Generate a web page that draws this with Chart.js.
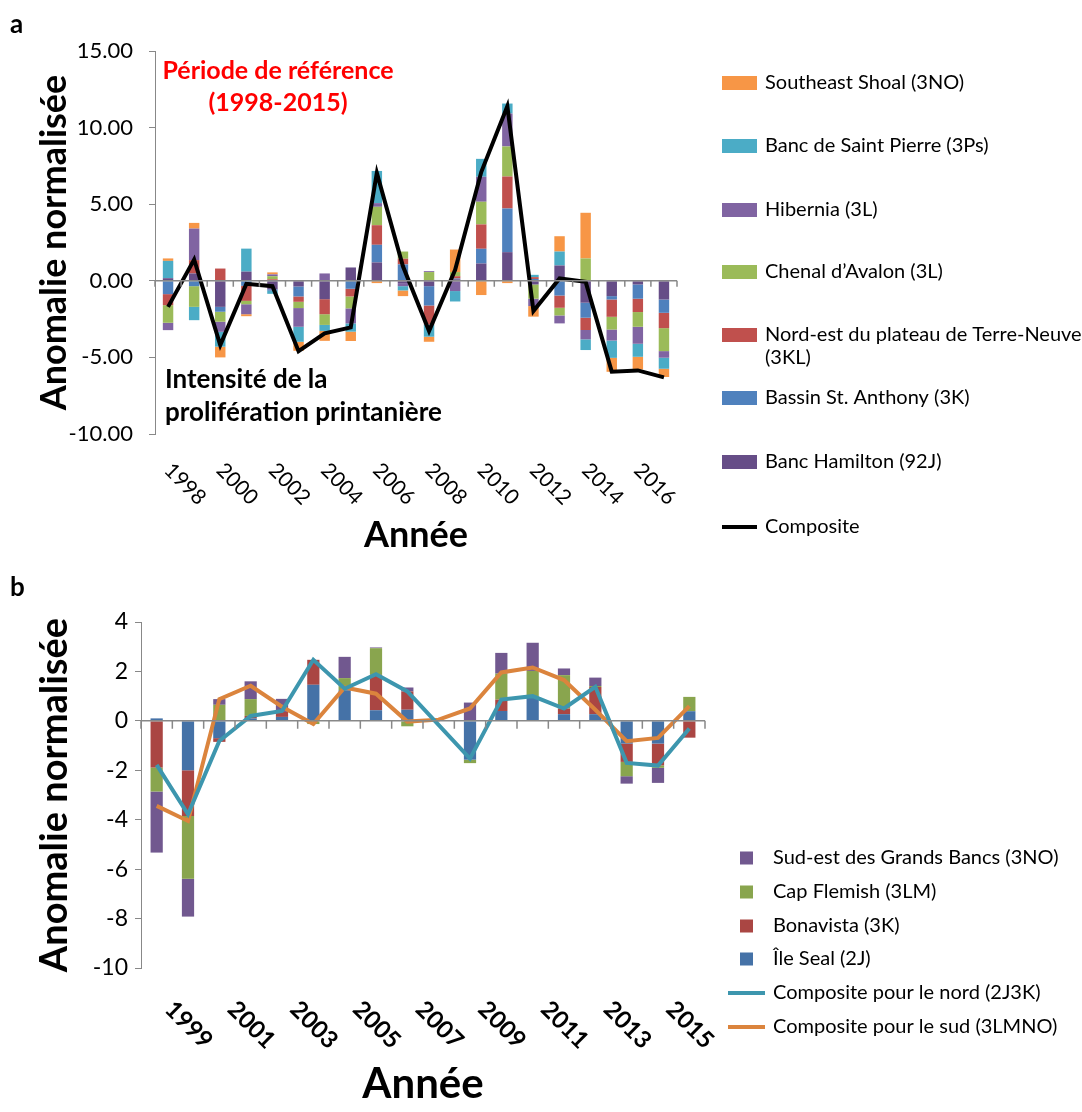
<!DOCTYPE html>
<html>
<head>
<meta charset="utf-8">
<title>Anomalie normalisée</title>
<script src="https://cdn.jsdelivr.net/npm/chart.js@4.4.1/dist/chart.umd.min.js"></script>
<style>
  body { margin: 0; background: #fff; }
  canvas { display: block; }
</style>
</head>
<body>
<canvas id="graphiqueA" width="1082" height="560"></canvas>
<canvas id="graphiqueB" width="1082" height="552"></canvas>
<script>
// Données du panneau a (1998-2017)
const anneesA = ['1998', '1999', '2000', '2001', '2002', '2003', '2004', '2005', '2006', '2007',
                 '2008', '2009', '2010', '2011', '2012', '2013', '2014', '2015', '2016', '2017'];
const bancHamilton = [0.17, 0.48, -1.70, 0.60, -0.55, -0.37, -1.20, 0.87, 1.20, -0.15, -0.35, 0.10, 1.13, 1.87, -0.24, 1.00, -1.43, -1.00, -0.24, -1.22];
const bassinStAnthony = [-0.87, -0.35, -0.32, -0.33, -0.10, -0.65, 0, -0.52, 1.15, 1.07, -1.26, 0.05, 0.96, 2.85, 0.12, -0.96, -0.98, -0.22, -0.93, -0.87];
const nordEstPlateau = [-0.72, 0.87, 0.80, -0.98, 0.10, -0.35, -0.98, -0.50, 1.28, 0.37, -1.24, 0.15, 1.59, 2.09, 0.12, -0.80, -0.80, -1.13, -0.87, -1.00];
const chenalAvalon = [-1.15, -1.35, -0.65, -0.22, 0.20, -0.41, -0.70, -0.78, 1.20, 0.47, 0.57, 0.27, 1.48, 1.96, -0.93, -0.50, 1.46, -0.83, -0.96, -1.50];
const hibernia = [-0.48, 2.06, -0.66, -0.65, 0.12, -1.22, 0.48, -0.98, 0.24, -0.20, 0.06, -0.67, 1.63, 2.15, -0.48, -0.52, -0.61, -0.72, -1.11, -0.43];
const bancSaintPierre = [1.13, -0.87, -0.97, 1.50, -0.20, -0.98, -0.39, -0.54, 2.10, -0.28, -0.80, -0.68, 1.17, 0.65, 0.15, 0.91, -0.70, -1.13, -0.85, -0.72];
const southeastShoal = [0.16, 0.37, -0.70, -0.13, 0.13, -0.59, -0.65, -0.61, -0.15, -0.37, -0.33, 1.47, -0.93, -0.15, -0.69, 1.00, 2.98, -0.91, -0.83, -0.54];
const compositeA = [-1.70, 1.39, -4.20, -0.20, -0.35, -4.60, -3.43, -3.04, 7.04, 0.95, -3.28, 0.72, 7.10, 11.40, -1.97, 0.15, -0.07, -5.93, -5.85, -6.30];
const ticksA = [-10, -5, 0, 5, 10, 15];

// Données du panneau b (1999-2016)
const anneesB = ['1999', '2000', '2001', '2002', '2003', '2004', '2005', '2006', '2007',
                 '2008', '2009', '2010', '2011', '2012', '2013', '2014', '2015', '2016'];
const ileSeal = [0.10, -2.00, -0.70, 0.10, 0.16, 1.46, 1.24, 0.43, 0.45, null, -1.57, 0.40, 0.97, 0.27, 0.27, -0.92, -0.92, 0.39];
const bonavista = [-1.89, -1.85, -0.15, 0.10, 0.20, 1.01, 0, 1.43, 0.74, null, 0, 0.46, 0, 0.23, 1.10, -0.74, -0.88, -0.68];
const capFlemish = [-0.97, -2.54, 0.65, 0.68, 0, -0.13, 0.49, 1.08, -0.22, null, -0.14, 1.05, 1.05, 1.35, 0.04, -0.58, -0.10, 0.58];
const sudEstGrandsBancs = [-2.47, -1.53, 0.23, 0.72, 0.53, 0, 0.86, 0.03, 0.16, null, 0.74, 0.84, 1.14, 0.27, 0.34, -0.30, -0.61, 0];
const compositeNord = [-1.78, -3.78, -0.81, 0.20, 0.40, 2.47, 1.30, 1.89, 1.19, null, -1.53, 0.86, 1.00, 0.50, 1.38, -1.70, -1.81, -0.31];
const compositeSud = [-3.44, -4.05, 0.88, 1.42, 0.57, -0.13, 1.35, 1.10, -0.03, 0.05, 0.50, 1.96, 2.16, 1.65, 0.45, -0.82, -0.69, 0.60];
const ticksB = [-10, -8, -6, -4, -2, 0, 2, 4];

Chart.defaults.font.family = 'Lato, "Open Sans", sans-serif';
Chart.defaults.color = '#000';

// Ligne du zéro, étiquettes inclinées, légende et textes dessinés sur le canevas
function decorations(cfg) {
    return {
        id: 'decorations',
        afterDatasetsDraw(chart) {
            const ctx = chart.ctx;
            const x = chart.scales.x;
            const y0 = chart.scales.y.getPixelForValue(0);
            const pas = x.getPixelForValue(1) - x.getPixelForValue(0);
            ctx.save();
            ctx.strokeStyle = '#888';
            ctx.lineWidth = 1.5;
            ctx.beginPath();
            ctx.moveTo(chart.chartArea.left, y0);
            ctx.lineTo(chart.chartArea.right, y0);
            for (let i = 0; i <= chart.data.labels.length; i++) {
                const px = x.getPixelForValue(i) - pas / 2;
                ctx.moveTo(px, y0);
                ctx.lineTo(px, y0 + cfg.tickLen);
            }
            ctx.stroke();
            ctx.restore();
        },
        afterDraw(chart) {
            const ctx = chart.ctx;
            const x = chart.scales.x;
            ctx.save();
            // étiquettes des années
            ctx.font = cfg.labelFont;
            ctx.fillStyle = '#000';
            ctx.textAlign = 'center';
            ctx.textBaseline = 'middle';
            chart.data.labels.forEach((lab, i) => {
                if (i % 2 !== 0) return;
                ctx.save();
                ctx.translate(x.getPixelForValue(i) + cfg.labelDx, chart.chartArea.bottom + cfg.labelDy);
                ctx.rotate(Math.PI / 4);
                ctx.fillText(lab, 0, 0);
                ctx.restore();
            });
            // légende
            const lg = cfg.legende;
            ctx.textAlign = 'left';
            ctx.font = lg.font;
            lg.ordre.forEach((idx, k) => {
                const ds = chart.data.datasets[idx];
                const y = lg.ys[k];
                if (ds.type === 'line') {
                    ctx.strokeStyle = ds.borderColor;
                    ctx.lineWidth = ds.borderWidth;
                    ctx.beginPath();
                    ctx.moveTo(lg.lineX, y);
                    ctx.lineTo(lg.lineX + lg.lineW, y);
                    ctx.stroke();
                } else {
                    ctx.fillStyle = ds.backgroundColor;
                    ctx.fillRect(lg.boxX, y - lg.boxH / 2, lg.boxW, lg.boxH);
                }
                ctx.fillStyle = '#000';
                const lignes = Array.isArray(ds.label) ? ds.label : [ds.label];
                lignes.forEach((t, j) => ctx.fillText(t, lg.textX, y + j * lg.lh));
            });
            // textes libres
            cfg.textes.forEach(t => {
                ctx.font = t.font;
                ctx.fillStyle = t.color || '#000';
                ctx.textAlign = t.align || 'left';
                ctx.fillText(t.text, t.x, t.y);
            });
            ctx.restore();
        }
    };
}

function barres(label, data, couleur) {
    return { label: label, data: data, backgroundColor: couleur, borderWidth: 0 };
}

function ligne(label, data, couleur, pile) {
    return {
        type: 'line', label: label, data: data, borderColor: couleur, borderWidth: 4,
        pointRadius: 0, tension: 0, fill: false, spanGaps: true, stack: pile, order: -1
    };
}

// Panneau a
new Chart(document.getElementById('graphiqueA'), {
    type: 'bar',
    data: {
        labels: anneesA,
        datasets: [
            barres('Banc Hamilton (92J)', bancHamilton, '#664D87'),
            barres('Bassin St. Anthony (3K)', bassinStAnthony, '#4F81BD'),
            barres(['Nord-est du plateau de Terre-Neuve', '(3KL)'], nordEstPlateau, '#C0504D'),
            barres('Chenal d\u2019Avalon (3L)', chenalAvalon, '#9BBB59'),
            barres('Hibernia (3L)', hibernia, '#8064A2'),
            barres('Banc de Saint Pierre (3Ps)', bancSaintPierre, '#4BACC6'),
            barres('Southeast Shoal (3NO)', southeastShoal, '#F79646'),
            ligne('Composite', compositeA, '#000', 'composite')
        ]
    },
    options: {
        responsive: false,
        animation: false,
        layout: { padding: { top: 51, right: 405, bottom: 0, left: 0 } },
        plugins: { legend: { display: false }, tooltip: { enabled: false } },
        datasets: { bar: { barPercentage: 0.4, categoryPercentage: 1 } },
        scales: {
            x: {
                stacked: true,
                grid: { display: false },
                border: { display: false },
                ticks: { display: false },
                title: { display: true, text: 'Année', font: { size: 36, weight: 'bold' }, padding: { top: 0, bottom: 3 } },
                afterFit: s => { s.height = 126; }
            },
            y: {
                stacked: true,
                min: -10,
                max: 15,
                afterBuildTicks: s => { s.ticks = ticksA.map(v => ({ value: v })); },
                ticks: { padding: 16, font: { size: 22 }, callback: v => v.toFixed(2) },
                grid: { drawOnChartArea: false, tickLength: 6, color: '#888' },
                border: { color: '#888' },
                title: { display: true, text: 'Anomalie normalisée', font: { size: 36, weight: 'bold' }, padding: { top: 33, bottom: 0 } },
                afterFit: s => { s.width = 155; }
            }
        }
    },
    plugins: [decorations({
        tickLen: 6,
        labelFont: '21px Lato',
        labelDx: 17,
        labelDy: 50,
        legende: {
            ordre: [6, 5, 4, 3, 2, 1, 0, 7],
            ys: [83, 146, 210, 272, 335, 398, 462, 527],
            boxX: 722, boxW: 35, boxH: 14, lineX: 722, lineW: 35,
            textX: 765, lh: 23, font: '20px Lato'
        },
        textes: [
            { text: 'a', x: 10, y: 25, font: 'bold 26px Lato' },
            { text: 'Période de référence', x: 278, y: 71, font: 'bold 25px Lato', color: '#FF0000', align: 'center' },
            { text: '(1998-2015)', x: 278, y: 103, font: 'bold 25px Lato', color: '#FF0000', align: 'center' },
            { text: 'Intensité de la', x: 165, y: 380, font: 'bold 26px Lato' },
            { text: 'prolifération printanière', x: 165, y: 413, font: 'bold 26px Lato' }
        ]
    })]
});

// Panneau b
new Chart(document.getElementById('graphiqueB'), {
    type: 'bar',
    data: {
        labels: anneesB,
        datasets: [
            barres('Île Seal (2J)', ileSeal, '#4572A7'),
            barres('Bonavista (3K)', bonavista, '#AA4643'),
            barres('Cap Flemish (3LM)', capFlemish, '#89A54E'),
            barres('Sud-est des Grands Bancs (3NO)', sudEstGrandsBancs, '#71588F'),
            ligne('Composite pour le nord (2J3K)', compositeNord, '#3D96AE', 'nord'),
            ligne('Composite pour le sud (3LMNO)', compositeSud, '#DB843D', 'sud')
        ]
    },
    options: {
        responsive: false,
        animation: false,
        layout: { padding: { top: 62, right: 377, bottom: 0, left: 0 } },
        plugins: { legend: { display: false }, tooltip: { enabled: false } },
        datasets: { bar: { barPercentage: 0.39, categoryPercentage: 1 } },
        scales: {
            x: {
                stacked: true,
                grid: { display: false },
                border: { display: false },
                ticks: { display: false },
                title: { display: true, text: 'Année', font: { size: 42, weight: 'bold' }, padding: { top: 0, bottom: 2 } },
                afterFit: s => { s.height = 144; }
            },
            y: {
                stacked: true,
                min: -10,
                max: 4,
                afterBuildTicks: s => { s.ticks = ticksB.map(v => ({ value: v })); },
                ticks: { padding: 7, font: { size: 23 } },
                grid: { drawOnChartArea: false, tickLength: 6, color: '#888' },
                border: { color: '#888' },
                title: { display: true, text: 'Anomalie normalisée', font: { size: 38, weight: 'bold' }, padding: { top: 32, bottom: 0 } },
                afterFit: s => { s.width = 141; }
            }
        }
    },
    plugins: [decorations({
        tickLen: 8,
        labelFont: 'bold 24px Lato',
        labelDx: 32,
        labelDy: 57,
        legende: {
            ordre: [3, 2, 1, 0, 4, 5],
            ys: [298, 332, 366, 399, 433, 467],
            boxX: 740, boxW: 13, boxH: 13, lineX: 728, lineW: 37,
            textX: 773, lh: 23, font: '20px Lato'
        },
        textes: [
            { text: 'b', x: 10, y: 28, font: 'bold 26px Lato' }
        ]
    })]
});
</script>
</body>
</html>
